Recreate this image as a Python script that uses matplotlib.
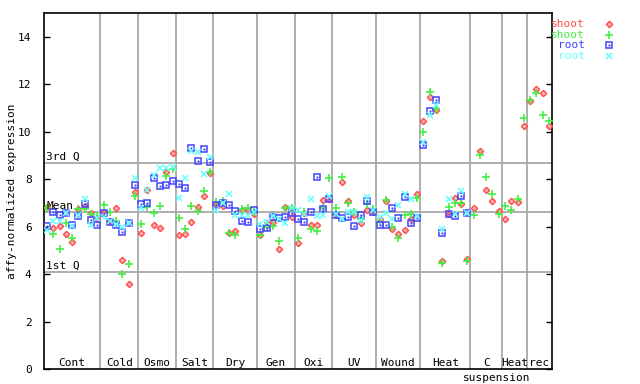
import numpy as np
import matplotlib
matplotlib.use("Agg")
import matplotlib.pyplot as plt
from matplotlib.transforms import blended_transform_factory

# =========================================================
# DATA  (one value per sample, grouped by condition)
# =========================================================
GROUPS = ["Cont", "Cold", "Osmo", "Salt", "Dry", "Gen", "Oxi", "UV",
          "Wound", "Heat", "C", "Heat", "rec"]
GROUP_SIZES = [9, 6, 6, 6, 7, 6, 6, 7, 7, 8, 5, 4, 4]

shoot_1 = [6.84, 5.93, 6.03, 5.68, 5.37, 6.73, 6.85, 6.56, 6.31,
           6.56, 6.24, 6.78, 4.60, 3.57, 7.44,
           5.75, 7.55, 6.06, 5.93, 8.32, 9.10,
           5.65, 5.68, 6.21, 6.84, 7.31, 8.25,
           6.89, 6.87, 5.72, 5.80, 6.70, 6.70, 6.52,
           5.65, 6.17, 6.21, 5.05, 6.82, 6.40,
           5.33, 6.56, 6.07, 6.07, 7.10, 7.15,
           6.50, 7.90, 7.06, 6.50, 6.14, 6.70, 6.60,
           6.31, 7.06, 5.89, 5.69, 5.86, 6.31, 7.38,
           10.47, 11.46, 10.90, 4.53, 6.54, 7.20, 6.94, 4.62,
           6.78, 9.19, 7.55, 7.08, 6.66,
           6.31, 7.08, 7.03, 10.25, 11.29, 11.81, 11.63, 10.22]

shoot_2 = [6.80, 5.68, 5.05, 6.17, 5.50, 6.75, 6.73, 6.55, 6.45,
           6.92, 6.60, 6.25, 3.99, 4.41, 7.30,
           6.11, 6.82, 6.59, 6.87, 8.14, 8.43,
           6.35, 5.89, 6.87, 6.66, 7.48, 8.32,
           7.03, 7.08, 5.75, 5.65, 6.75, 6.80, 6.60,
           5.65, 6.00, 6.04, 5.40, 6.80, 6.80,
           5.54, 6.60, 5.89, 5.82, 6.78, 8.04,
           6.78, 8.08, 6.99, 6.60, 6.30, 6.95, 6.75,
           6.20, 7.13, 5.97, 5.51, 6.49, 6.52, 7.20,
           9.98, 11.67, 10.96, 4.46, 6.82, 7.00, 7.00, 4.57,
           6.49, 9.01, 8.08, 7.38, 6.52,
           6.85, 6.70, 7.17, 10.57, 11.34, 11.63, 10.71, 10.43]

root_1 = [6.04, 6.61, 6.48, 6.56, 6.05, 6.45, 6.96, 6.28, 6.07,
          6.56, 6.21, 6.05, 5.76, 6.14, 7.76,
          6.96, 6.99, 8.03, 7.69, 7.76, 7.94,
          7.80, 7.62, 9.31, 8.77, 9.27, 8.71,
          6.89, 6.99, 6.90, 6.65, 6.22, 6.20, 6.70,
          5.88, 5.95, 6.42, 6.37, 6.40, 6.57,
          6.32, 6.21, 6.63, 8.08, 6.73, 7.15,
          6.47, 6.37, 6.39, 6.03, 6.48, 7.06, 6.63,
          6.07, 6.07, 6.78, 6.35, 7.26, 6.15, 6.35,
          9.43, 10.85, 11.32, 5.72, 6.52, 6.45, 7.28, 6.56]

root_2 = [5.86, 6.24, 6.24, 6.56, 6.04, 6.50, 7.16, 6.08, 6.37,
          6.42, 6.24, 6.10, 5.98, 6.15, 8.04,
          6.78, 7.55, 8.18, 8.46, 8.46, 8.50,
          7.20, 8.04, 9.20, 9.16, 8.22, 8.92,
          6.70, 7.00, 7.37, 6.49, 6.50, 6.50, 6.60,
          6.10, 6.20, 6.45, 6.30, 6.14, 6.80,
          6.70, 6.55, 7.15, 6.45, 6.50, 7.30,
          6.55, 6.30, 6.60, 6.60, 6.29, 7.25, 6.70,
          6.40, 6.56, 6.31, 6.92, 7.38, 7.16, 6.45,
          9.55, 10.71, 11.13, 5.90, 7.17, 6.52, 7.50, 6.56]

Q3 = 8.67
MEAN = 6.61
Q1 = 4.08

# =========================================================
# STYLE
# =========================================================
RED = "#ff4c4c"
GREEN = "#44ee44"
BLUE = "#4444ff"
CYAN = "#66ffff"
GRID = "#a8a8a8"
MONO = "DejaVu Sans Mono"

plt.rcParams["font.family"] = MONO

fig = plt.figure(figsize=(6.4, 3.84), dpi=100)
ax = fig.add_axes([44 / 640, 1 - 369 / 384, 508 / 640, 356 / 384])

n = len(shoot_1)
x = np.arange(n)
xr = np.arange(len(root_1))

# reference lines
for v in (Q3, MEAN, Q1):
    ax.axhline(v, color=GRID, lw=1.3, zorder=1)

# group separators
edges = np.cumsum(GROUP_SIZES)
for e in edges[:-1]:
    ax.axvline(e - 0.5, color=GRID, lw=1.3, zorder=1)

# points
ax.plot(x, shoot_1, ls="none", marker="D", ms=3.2, mfc="#ffb0b0",
        mec=RED, mew=1.0, zorder=3)
ax.plot(x, shoot_2, ls="none", marker="+", ms=6, mec=GREEN, mew=1.2, zorder=4)
ax.plot(xr, root_1, ls="none", marker="s", ms=4.6, mfc="none",
        mec=BLUE, mew=1.1, zorder=5)
ax.plot(xr, root_1, ls="none", marker="s", ms=1.0, mfc=BLUE,
        mec=BLUE, mew=0.3, zorder=5)
ax.plot(xr, root_2, ls="none", marker="x", ms=4.4, mec=CYAN, mew=1.1, zorder=6)

ax.set_xlim(-0.5, n - 0.5)
ax.set_ylim(0, 15)

# quantile labels
trans = blended_transform_factory(ax.transAxes, ax.transData)
for v, lab in ((Q3, "3rd Q"), (MEAN, "Mean"), (Q1, "1st Q")):
    ax.text(0.004, v + 0.05, lab, transform=trans, fontsize=8,
            va="bottom", ha="left", zorder=7)

# group labels
tb = blended_transform_factory(ax.transData, ax.transAxes)
starts = np.concatenate([[0], edges[:-1]])
for g, s, e in zip(GROUPS, starts, edges):
    ax.text((s + e - 1) / 2, 0.004, g, transform=tb, fontsize=8,
            ha="center", va="bottom")
ax.text((starts[10] + edges[10] - 1) / 2 + 1.7, -0.012, "suspension",
        transform=tb, fontsize=8, ha="center", va="top")

ax.set_xticks([])
ax.set_yticks(range(0, 15, 2))
ax.tick_params(axis="y", direction="in", length=4, width=1, labelsize=8,
               pad=9, right=True)
for sp in ax.spines.values():
    sp.set_linewidth(1.2)

ax.set_ylabel("affy-normalized expression", fontsize=8, labelpad=1)

# legend outside on the right
legend = [("shoot", RED, "D"), ("shoot", GREEN, "+"),
          ("root", BLUE, "s"), ("root", CYAN, "x")]
for k, (lab, col, mk) in enumerate(legend):
    yy = 1 - (24 + 10.7 * k) / 384
    fig.text(585 / 640, yy, lab, color=col, fontsize=8, ha="right", va="center")
    if mk == "D":
        fig.lines.append(plt.Line2D([609 / 640], [yy], transform=fig.transFigure,
                                    marker="D", ms=3.2, mfc="#ffb0b0", mec=col, mew=1.0))
    elif mk == "s":
        fig.lines.append(plt.Line2D([609 / 640], [yy], transform=fig.transFigure,
                                    marker="s", ms=4.6, mfc="none", mec=col, mew=1.1))
        fig.lines.append(plt.Line2D([609 / 640], [yy], transform=fig.transFigure,
                                    marker="s", ms=1.0, mfc=col, mec=col, mew=0.3))
    else:
        fig.lines.append(plt.Line2D([609 / 640], [yy], transform=fig.transFigure,
                                    marker=mk, ms=5.5 if mk == "+" else 4.4,
                                    mec=col, mew=1.2))

fig.savefig("out.png", dpi=100)
